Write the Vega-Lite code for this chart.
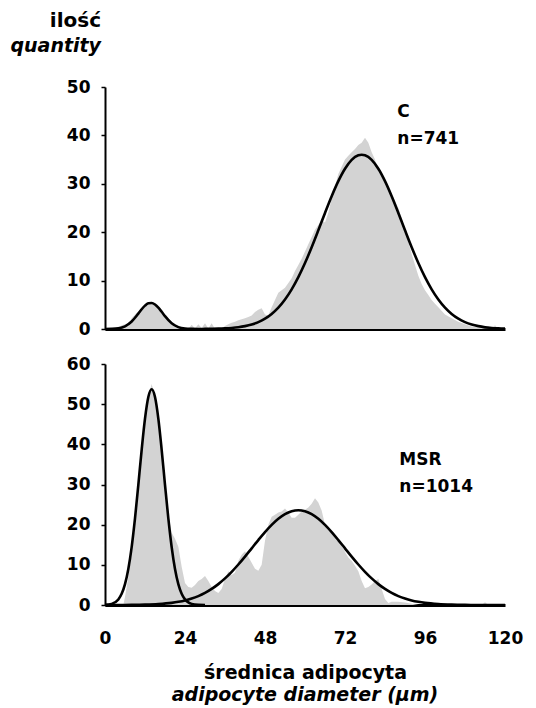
{
  "$schema": "https://vega.github.io/schema/vega-lite/v6.json",
  "autosize": {"type": "pad"},
  "padding": {"left": 10, "top": 11, "right": 5, "bottom": 0},
  "background": "white",
  "config": {
    "font": "DejaVu Sans",
    "view": {"stroke": null},
    "axis": {"labelFont": "DejaVu Sans", "labelFontWeight": "bold", "labelFontSize": 17, "labelColor": "black", "domainColor": "black", "domainWidth": 2, "tickColor": "black", "tickWidth": 1.5, "grid": false, "zindex": 1, "titleFont": "DejaVu Sans", "titleColor": "black"}
  },
  "spacing": 18,
  "datasets": {
    "topGray": [
      {"d":0,"n":0},{"d":2,"n":0},{"d":4,"n":0},{"d":5,"n":0.8},{"d":6,"n":1},{"d":7,"n":0.5},{"d":8,"n":2.2},{"d":9,"n":3},{"d":10,"n":3.6},{"d":11,"n":4.3},{"d":12,"n":4.9},{"d":13,"n":5.2},{"d":14,"n":5.2},{"d":15,"n":4.8},{"d":16,"n":4.1},{"d":17,"n":3.3},{"d":18,"n":2.4},{"d":19,"n":1.6},{"d":20,"n":1},{"d":21,"n":0.6},{"d":22,"n":0.3},{"d":23,"n":0},{"d":25,"n":0},{"d":26,"n":0.9},{"d":27,"n":0.1},{"d":28,"n":1},{"d":29,"n":0.2},{"d":30,"n":1.2},{"d":31,"n":0.1},{"d":32,"n":1.2},{"d":33,"n":0},{"d":35,"n":0},{"d":36,"n":0.6},{"d":37,"n":1},{"d":38,"n":1.3},{"d":39,"n":1.5},{"d":40,"n":1.8},{"d":41,"n":2},{"d":42,"n":2.2},{"d":43,"n":2.5},{"d":44,"n":2.8},{"d":45,"n":3.5},{"d":46,"n":4},{"d":47,"n":4.3},{"d":48,"n":3},{"d":49,"n":2.8},{"d":50,"n":4.5},{"d":51,"n":6},{"d":52,"n":7.5},{"d":53,"n":8},{"d":54,"n":8.5},{"d":55,"n":9.5},{"d":56,"n":10.5},{"d":57,"n":12},{"d":58,"n":13.2},{"d":59,"n":14.5},{"d":60,"n":16},{"d":61,"n":17.5},{"d":62,"n":19},{"d":63,"n":20.5},{"d":64,"n":21.5},{"d":65,"n":22.5},{"d":66,"n":22},{"d":67,"n":24},{"d":68,"n":27},{"d":69,"n":29.5},{"d":70,"n":32},{"d":71,"n":33.5},{"d":72,"n":35},{"d":73,"n":35.8},{"d":74,"n":36.5},{"d":75,"n":37.2},{"d":76,"n":38},{"d":77,"n":38.5},{"d":78,"n":39.5},{"d":79,"n":38.5},{"d":80,"n":36.5},{"d":81,"n":35},{"d":82,"n":32.5},{"d":83,"n":31.5},{"d":84,"n":30.5},{"d":85,"n":29.3},{"d":86,"n":28},{"d":87,"n":26.5},{"d":88,"n":25},{"d":89,"n":23},{"d":90,"n":20.5},{"d":91,"n":18},{"d":92,"n":15.5},{"d":93,"n":13.2},{"d":94,"n":11},{"d":95,"n":9.3},{"d":96,"n":8},{"d":97,"n":7},{"d":98,"n":6},{"d":99,"n":5.2},{"d":100,"n":4.5},{"d":102,"n":3},{"d":104,"n":2.2},{"d":106,"n":1.5},{"d":108,"n":1},{"d":110,"n":0.5},{"d":112,"n":0.3},{"d":114,"n":0.1},{"d":116,"n":0},{"d":117,"n":0.8},{"d":118,"n":0},{"d":120,"n":0}
    ],
    "topFit": [
      {"d":0,"n":0},{"d":2,"n":0.03},{"d":4,"n":0.14},{"d":6,"n":0.55},{"d":8,"n":1.54},{"d":10,"n":3.18},{"d":11,"n":4.08},{"d":12,"n":4.83},{"d":13,"n":5.3},{"d":14,"n":5.38},{"d":15,"n":5.06},{"d":16,"n":4.4},{"d":17,"n":3.55},{"d":18,"n":2.65},{"d":20,"n":1.17},{"d":22,"n":0.38},{"d":24,"n":0.09},{"d":26,"n":0.02},{"d":28,"n":0},{"d":30,"n":0.02},{"d":32,"n":0.04},{"d":34,"n":0.07},{"d":36,"n":0.13},{"d":38,"n":0.22},{"d":40,"n":0.36},{"d":42,"n":0.59},{"d":44,"n":0.93},{"d":46,"n":1.43},{"d":48,"n":2.13},{"d":50,"n":3.11},{"d":52,"n":4.41},{"d":54,"n":6.09},{"d":56,"n":8.19},{"d":58,"n":10.71},{"d":60,"n":13.63},{"d":62,"n":16.9},{"d":64,"n":20.4},{"d":66,"n":23.98},{"d":68,"n":27.43},{"d":70,"n":30.54},{"d":72,"n":33.1},{"d":74,"n":34.93},{"d":76,"n":35.88},{"d":77,"n":36},{"d":78,"n":35.88},{"d":80,"n":34.93},{"d":82,"n":33.1},{"d":84,"n":30.54},{"d":86,"n":27.43},{"d":88,"n":23.98},{"d":90,"n":20.4},{"d":92,"n":16.9},{"d":94,"n":13.63},{"d":96,"n":10.71},{"d":98,"n":8.19},{"d":100,"n":6.09},{"d":102,"n":4.41},{"d":104,"n":3.11},{"d":106,"n":2.13},{"d":108,"n":1.43},{"d":110,"n":0.93},{"d":112,"n":0.59},{"d":114,"n":0.36},{"d":116,"n":0.22},{"d":118,"n":0.13},{"d":120,"n":0.07}
    ],
    "topLabel": [
      {"d":87.7,"n":44.9,"t":"C"},
      {"d":87.7,"n":39.2,"t":"n=741"}
    ],
    "botGray": [
      {"d":0,"n":0},{"d":5,"n":0},{"d":5.5,"n":0},{"d":6,"n":2},{"d":7,"n":7},{"d":8,"n":12.5},{"d":9,"n":20},{"d":10,"n":28},{"d":11,"n":37},{"d":12,"n":46},{"d":13,"n":52},{"d":14,"n":55},{"d":15,"n":52},{"d":16,"n":45.5},{"d":17,"n":38},{"d":18,"n":30},{"d":19,"n":22.5},{"d":20,"n":18},{"d":21,"n":16.5},{"d":22,"n":14.5},{"d":23,"n":9.5},{"d":24,"n":5.5},{"d":25,"n":4.5},{"d":26,"n":4.3},{"d":27,"n":5},{"d":28,"n":6},{"d":29,"n":6.5},{"d":30,"n":7.2},{"d":31,"n":6},{"d":32,"n":4.5},{"d":33,"n":3.5},{"d":34,"n":3},{"d":35,"n":4},{"d":36,"n":6.5},{"d":37,"n":8.4},{"d":38,"n":7.5},{"d":39,"n":8},{"d":40,"n":11},{"d":41,"n":12.5},{"d":42,"n":13.4},{"d":43,"n":12},{"d":44,"n":10.5},{"d":45,"n":9},{"d":46,"n":8.5},{"d":47,"n":10},{"d":48,"n":16},{"d":49,"n":20},{"d":50,"n":22},{"d":51,"n":22.5},{"d":52,"n":23},{"d":53,"n":23.3},{"d":54,"n":24},{"d":55,"n":23},{"d":56,"n":21.7},{"d":57,"n":21.7},{"d":58,"n":22.5},{"d":59,"n":23.3},{"d":60,"n":23.7},{"d":61,"n":24.3},{"d":62,"n":25.2},{"d":63,"n":26.6},{"d":64,"n":25.5},{"d":65,"n":23.5},{"d":66,"n":20},{"d":67,"n":18.5},{"d":68,"n":17.8},{"d":69,"n":17.2},{"d":70,"n":16},{"d":71,"n":15},{"d":72,"n":13.2},{"d":73,"n":11.8},{"d":74,"n":11},{"d":75,"n":9.8},{"d":76,"n":8.4},{"d":77,"n":6},{"d":78,"n":4.2},{"d":79,"n":4.5},{"d":80,"n":5.1},{"d":81,"n":6},{"d":82,"n":6.5},{"d":83,"n":4},{"d":84,"n":1.5},{"d":85,"n":0.5},{"d":86,"n":0.8},{"d":88,"n":0.8},{"d":90,"n":0.6},{"d":92,"n":0.3},{"d":94,"n":0},{"d":98,"n":0},{"d":99,"n":0.6},{"d":100,"n":0},{"d":113,"n":0},{"d":114,"n":0.7},{"d":115,"n":0},{"d":120,"n":0}
    ],
    "botFit": [
      {"c":"a","d":0,"n":0.04},{"c":"a","d":2,"n":0.28},{"c":"a","d":4,"n":1.39},{"c":"a","d":5,"n":2.79},{"c":"a","d":6,"n":5.19},{"c":"a","d":7,"n":8.97},{"c":"a","d":8,"n":14.42},{"c":"a","d":9,"n":21.55},{"c":"a","d":10,"n":29.93},{"c":"a","d":11,"n":38.65},{"c":"a","d":12,"n":46.4},{"c":"a","d":13,"n":51.77},{"c":"a","d":14,"n":53.7},{"c":"a","d":15,"n":51.77},{"c":"a","d":16,"n":46.4},{"c":"a","d":17,"n":38.65},{"c":"a","d":18,"n":29.93},{"c":"a","d":19,"n":21.55},{"c":"a","d":20,"n":14.42},{"c":"a","d":21,"n":8.97},{"c":"a","d":22,"n":5.19},{"c":"a","d":23,"n":2.79},{"c":"a","d":24,"n":1.39},{"c":"a","d":25,"n":0.64},{"c":"a","d":26,"n":0.28},{"c":"a","d":28,"n":0.04},{"c":"a","d":30,"n":0},
      {"c":"b","d":0,"n":0},{"c":"b","d":4,"n":0.01},{"c":"b","d":8,"n":0.03},{"c":"b","d":12,"n":0.09},{"c":"b","d":16,"n":0.23},{"c":"b","d":20,"n":0.53},{"c":"b","d":22,"n":0.79},{"c":"b","d":24,"n":1.13},{"c":"b","d":26,"n":1.6},{"c":"b","d":28,"n":2.22},{"c":"b","d":30,"n":3.01},{"c":"b","d":32,"n":4},{"c":"b","d":34,"n":5.2},{"c":"b","d":36,"n":6.62},{"c":"b","d":38,"n":8.26},{"c":"b","d":40,"n":10.08},{"c":"b","d":42,"n":12.05},{"c":"b","d":44,"n":14.11},{"c":"b","d":46,"n":16.17},{"c":"b","d":48,"n":18.15},{"c":"b","d":50,"n":19.95},{"c":"b","d":52,"n":21.47},{"c":"b","d":54,"n":22.63},{"c":"b","d":56,"n":23.35},{"c":"b","d":58,"n":23.6},{"c":"b","d":60,"n":23.35},{"c":"b","d":62,"n":22.63},{"c":"b","d":64,"n":21.47},{"c":"b","d":66,"n":19.95},{"c":"b","d":68,"n":18.15},{"c":"b","d":70,"n":16.17},{"c":"b","d":72,"n":14.11},{"c":"b","d":74,"n":12.05},{"c":"b","d":76,"n":10.08},{"c":"b","d":78,"n":8.26},{"c":"b","d":80,"n":6.62},{"c":"b","d":82,"n":5.2},{"c":"b","d":84,"n":4},{"c":"b","d":86,"n":3.01},{"c":"b","d":88,"n":2.22},{"c":"b","d":90,"n":1.6},{"c":"b","d":92,"n":1.13},{"c":"b","d":94,"n":0.79},{"c":"b","d":96,"n":0.53},{"c":"b","d":100,"n":0.23},{"c":"b","d":104,"n":0.09},{"c":"b","d":108,"n":0.03},{"c":"b","d":112,"n":0.01},{"c":"b","d":116,"n":0},{"c":"b","d":120,"n":0}
    ],
    "botLabel": [
      {"d":88.3,"n":36.0,"t":"MSR"},
      {"d":88.3,"n":29.5,"t":"n=1014"}
    ]
  },
  "vconcat": [
    {
      "width": 400,
      "height": 242,
      "title": {"text": "ilość", "subtitle": "quantity", "anchor": "start", "frame": "group", "align": "right", "dx": -4, "offset": 22, "font": "DejaVu Sans", "fontSize": 20, "fontWeight": "bold", "color": "black", "subtitleFont": "DejaVu Sans", "subtitleFontSize": 19, "subtitleFontWeight": "bold", "subtitleFontStyle": "italic", "subtitleColor": "black", "subtitlePadding": 6},
      "layer": [
        {
          "data": {"name": "topGray"},
          "mark": {"type": "area", "color": "#d3d3d3", "interpolate": "linear"},
          "encoding": {
            "x": {"field": "d", "type": "quantitative", "scale": {"domain": [0, 120], "nice": false}, "axis": {"labels": false, "ticks": false, "title": null, "domainWidth": 3}},
            "y": {"field": "n", "type": "quantitative", "scale": {"domain": [0, 50], "nice": false}, "axis": {"title": null, "values": [0,5,10,15,20,25,30,35,40,45,50], "labelExpr": "datum.value % 10 === 0 ? datum.label : ''", "tickSize": 4, "labelPadding": 11}}
          }
        },
        {
          "data": {"name": "topFit"},
          "mark": {"type": "line", "color": "black", "strokeWidth": 2.6, "interpolate": "monotone"},
          "encoding": {
            "x": {"field": "d", "type": "quantitative"},
            "y": {"field": "n", "type": "quantitative"}
          }
        },
        {
          "data": {"name": "topLabel"},
          "mark": {"type": "text", "align": "left", "baseline": "middle", "font": "DejaVu Sans", "fontSize": 17, "fontWeight": "bold", "color": "black"},
          "encoding": {
            "x": {"field": "d", "type": "quantitative"},
            "y": {"field": "n", "type": "quantitative"},
            "text": {"field": "t"}
          }
        }
      ]
    },
    {
      "width": 400,
      "height": 241,
      "title": {"text": "adipocyte diameter (μm)", "orient": "bottom", "anchor": "middle", "frame": "group", "offset": 4, "font": "DejaVu Sans", "fontSize": 19, "fontWeight": "bold", "fontStyle": "italic", "color": "black"},
      "layer": [
        {
          "data": {"name": "botGray"},
          "mark": {"type": "area", "color": "#d3d3d3", "interpolate": "linear"},
          "encoding": {
            "x": {"field": "d", "type": "quantitative", "scale": {"domain": [0, 120], "nice": false}, "axis": {"values": [0,24,48,72,96,120], "ticks": false, "labelFlush": false, "labelPadding": 25, "domainWidth": 3, "title": "średnica adipocyta", "titleFontSize": 19, "titleFontWeight": "bold", "titlePadding": 17}},
            "y": {"field": "n", "type": "quantitative", "scale": {"domain": [0, 60], "nice": false}, "axis": {"title": null, "values": [0,5,10,15,20,25,30,35,40,45,50,55,60], "labelExpr": "datum.value % 10 === 0 ? datum.label : ''", "tickSize": 4, "labelPadding": 11}}
          }
        },
        {
          "data": {"name": "botFit"},
          "mark": {"type": "line", "color": "black", "strokeWidth": 2.6, "interpolate": "monotone"},
          "encoding": {
            "x": {"field": "d", "type": "quantitative"},
            "y": {"field": "n", "type": "quantitative"},
            "detail": {"field": "c"}
          }
        },
        {
          "data": {"name": "botLabel"},
          "mark": {"type": "text", "align": "left", "baseline": "middle", "font": "DejaVu Sans", "fontSize": 17, "fontWeight": "bold", "color": "black"},
          "encoding": {
            "x": {"field": "d", "type": "quantitative"},
            "y": {"field": "n", "type": "quantitative"},
            "text": {"field": "t"}
          }
        }
      ]
    }
  ]
}
